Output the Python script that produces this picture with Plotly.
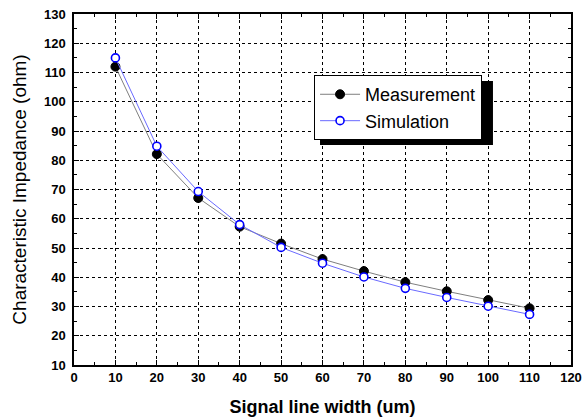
import plotly.graph_objects as go

width_um = [10, 20, 30, 40, 50, 60, 70, 80, 90, 100, 110]
measurement = [112, 82.1, 67.1, 57.3, 51.5, 46.2, 42.1, 38.3, 35.2, 32.2, 29.4]
simulation = [115, 84.8, 69.3, 58.0, 50.2, 44.8, 40.1, 36.2, 33.1, 30.1, 27.3]

x_ticks = list(range(0, 121, 10))
y_ticks = list(range(10, 131, 10))

fig = go.Figure()
fig.add_trace(go.Scatter(
    x=width_um, y=measurement, name="Measurement", mode="lines+markers",
    line=dict(color="#7f7f7f", width=1),
    marker=dict(symbol="circle", size=9, color="black", line=dict(color="black", width=1)),
))
fig.add_trace(go.Scatter(
    x=width_um, y=simulation, name="Simulation", mode="lines+markers",
    line=dict(color="#6a6aff", width=1),
    marker=dict(symbol="circle", size=8, color="white", line=dict(color="#0000ff", width=1.6)),
))

axis_common = dict(
    showline=True, linecolor="black", linewidth=1.5, mirror="allticks",
    ticks="inside", ticklen=5, tickwidth=1, tickcolor="black",
    showgrid=True, gridcolor="black", gridwidth=1, griddash="dot",
    zeroline=False, automargin=False, ticklabeloverflow="allow",
    tickfont=dict(family="Liberation Sans, Arial", size=13, color="black"),
)

fig.update_xaxes(
    range=[0, 120], tickvals=x_ticks, ticktext=["<b>%d</b>" % v for v in x_ticks],
    ticklabelstandoff=0,
    title=dict(text="<b>Signal line width (um)</b>", standoff=16,
               font=dict(family="Liberation Sans, Arial", size=18, color="black")),
    minor=dict(ticks="inside", ticklen=3, tickcolor="black", showgrid=False,
               tickvals=list(range(5, 120, 10))),
    **axis_common,
)
fig.update_yaxes(
    range=[10, 130], tickvals=y_ticks, ticktext=["<b>%d</b>" % v for v in y_ticks],
    ticklabelstandoff=4,
    title=dict(text="Characteristic Impedance (ohm)", standoff=12,
               font=dict(family="Liberation Sans, Arial", size=19, color="black")),
    minor=dict(ticks="inside", ticklen=3, tickcolor="black", showgrid=False,
               tickvals=list(range(15, 130, 10))),
    **axis_common,
)

# legend drop shadow
fig.add_shape(type="rect", xref="paper", yref="paper",
              x0=0.495, x1=0.843, y0=0.627, y1=0.809,
              fillcolor="black", line=dict(width=0), layer="above")

fig.update_layout(
    width=583, height=418,
    margin=dict(l=74, r=12, t=14, b=53),
    paper_bgcolor="white", plot_bgcolor="white",
    showlegend=True,
    legend=dict(
        x=0.483, y=0.826, xanchor="left", yanchor="top",
        bgcolor="white", bordercolor="black", borderwidth=1,
        font=dict(family="Liberation Sans, Arial", size=18, color="black"),
        itemwidth=40, tracegroupgap=0,
    ),
    font=dict(family="Liberation Sans, Arial", color="black"),
)

# remove the browser's default 8px page margin so the 583x418 figure fills the window
fig.write_html("out.html",
               config={"displayModeBar": False},
               post_script="document.body.style.margin='0';document.body.style.overflow='hidden';")
